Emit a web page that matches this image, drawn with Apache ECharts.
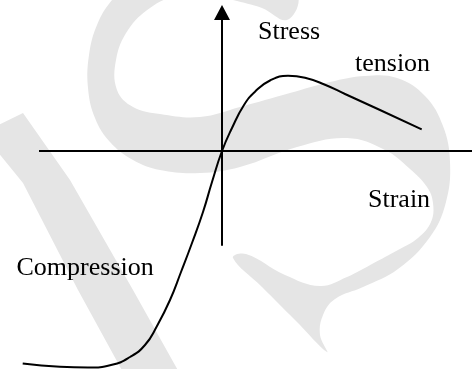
<!DOCTYPE html>
<html><head><meta charset="utf-8">
<script src="https://cdn.jsdelivr.net/npm/echarts@6/dist/echarts.min.js"></script>
<style>html,body{margin:0;padding:0;background:#fff}#c{width:472px;height:369px}</style>
</head><body><div id="c"></div>
<script>
// Strain (x) and stress (y) values of the curve, arbitrary units
const strain = [-19.93, -16.2, -13.4, -11.0, -9.2, -7.7, -6.5, -5.2, -4.1, -3.0, -1.9, -1.0, 0,
                1.0, 2.2, 3.3, 4.8, 6.6, 8.3, 10.3, 12.3, 15.8, 19.97];
const stress = [-21.25, -21.58, -21.66, -21.38, -20.6, -19.4, -17.5, -14.9, -12.1, -9.2, -6.1, -3.1, 0,
                2.3, 4.6, 5.93, 7.05, 7.53, 7.33, 6.63, 5.7, 4.1, 2.17];
// Plot ranges and axis extents
const xRange = [-22.2, 25];
const yRange = [-21.8, 15.1];
const strainAxisExtent = [-18.3, 25];
const stressAxisExtent = [-9.47, 13.85];
// Labels
const axisTitles = ['Stress', 'Strain'];
const regionTitles = ['tension', 'Compression'];

const curve = strain.map((x, i) => [x, stress[i]]);
const FONT = '26px "Liberation Serif", "Times New Roman", serif';
const WM = '#e5e5e5';

const chart = echarts.init(document.getElementById('c'), null, {renderer: 'canvas'});
chart.setOption({
  animation: false,
  backgroundColor: '#fff',
  grid: {left: 0, right: 0, top: 0, bottom: 0},
  xAxis: {type: 'value', min: xRange[0], max: xRange[1], show: false},
  yAxis: {type: 'value', min: yRange[0], max: yRange[1], show: false},
  graphic: [
    {type: 'polygon', z: -10, silent: true,
     shape: {points: [[-8,128],[23,113],[70,180],[133,290],[180,374],[124,374],[78,290],[23,183],[-8,145]]},
     style: {fill: WM}},
    {type: 'polygon', z: -10, silent: true,
     shape: {smooth: 0.4, points: [
       [287,20],[262,8],[233,0],[205,-8],[175,-4],[150,8],[128,30],[116,60],[117,90],[133,107],[160,114],[200,117],[240,107],[290,93],[330,82],[365,76],[397,78],[425,96],[443,126],[450,162],[446,202],[430,237],[398,269],[363,287],[335,299],[323,315],[320,335],[327,352],
       [295,320],[262,287],[233,258],
       [246,254],[285,275],[320,286],[347,277],[372,264],[398,250],[418,238],[431,222],[433,203],[427,187],[410,169],[385,150],[347,138],[297,147],[240,167],[200,173],[160,170],[133,160],[110,142],[95,118],[88,88],[89,55],[97,25],[112,0],[135,-22],[200,-40],[270,-25],[298,-4]
     ]},
     style: {fill: WM}},
    {type: 'text', z: 100, x: 258, y: 19, style: {text: axisTitles[0], font: FONT, fill: '#000', verticalAlign: 'top'}},
    {type: 'text', z: 100, x: 368, y: 187.5, style: {text: axisTitles[1], font: FONT, fill: '#000', verticalAlign: 'top'}},
    {type: 'text', z: 100, x: 355, y: 51.5, style: {text: regionTitles[0], font: FONT, fill: '#000', verticalAlign: 'top'}},
    {type: 'text', z: 100, x: 16.5, y: 255.5, style: {text: regionTitles[1], font: FONT, fill: '#000', verticalAlign: 'top'}}
  ],
  series: [{
    type: 'line',
    data: curve,
    smooth: 0.5,
    showSymbol: false,
    silent: true,
    lineStyle: {color: '#000', width: 2},
    markLine: {
      silent: true,
      animation: false,
      symbol: ['none', 'none'],
      label: {show: false},
      emphasis: {disabled: true},
      lineStyle: {color: '#000', width: 2, type: 'solid'},
      data: [
        [{coord: [strainAxisExtent[0], 0]}, {coord: [strainAxisExtent[1], 0]}],
        [{coord: [0, stressAxisExtent[0]]}, {coord: [0, stressAxisExtent[1]], symbol: 'triangle', symbolSize: [16, 15]}]
      ]
    }
  }]
});
</script></body></html>
